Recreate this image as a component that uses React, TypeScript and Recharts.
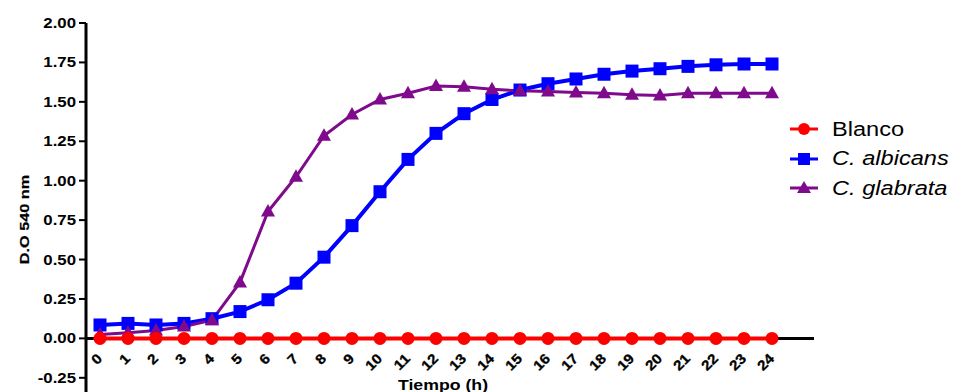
import React from 'react';
import { LineChart, Line, XAxis, YAxis, ReferenceLine } from 'recharts';

const hours = [0, 1, 2, 3, 4, 5, 6, 7, 8, 9, 10, 11, 12, 13, 14, 15, 16, 17, 18, 19, 20, 21, 22, 23, 24];
const blanco = [0, 0, 0, 0, 0, 0, 0, 0, 0, 0, 0, 0, 0, 0, 0, 0, 0, 0, 0, 0, 0, 0, 0, 0, 0];
const albicans = [0.085, 0.095, 0.085, 0.095, 0.125, 0.17, 0.245, 0.35, 0.515, 0.715, 0.93, 1.135, 1.3, 1.425, 1.515, 1.575, 1.615, 1.645, 1.675, 1.695, 1.71, 1.725, 1.735, 1.74, 1.74];
const glabrata = [0.025, 0.035, 0.05, 0.075, 0.115, 0.355, 0.805, 1.025, 1.285, 1.42, 1.515, 1.555, 1.6, 1.595, 1.58, 1.57, 1.565, 1.56, 1.555, 1.545, 1.54, 1.555, 1.555, 1.555, 1.555];
const yTicks = [-0.25, 0, 0.25, 0.5, 0.75, 1, 1.25, 1.5, 1.75, 2];

const data = hours.map((h, i) => ({ h, blanco: blanco[i], albicans: albicans[i], glabrata: glabrata[i] }));

const FONT = '"Liberation Sans", Arial, sans-serif';
const Y_MIN = -0.34;
const Y_MAX = 2;
const TOP = 23;
const X_AXIS_H = 20;

const RED = '#ff0000';
const BLUE = '#0000ff';
const PURPLE = '#7f0a8c';

const Circle = (p: any) => <circle key={p.index} cx={p.cx} cy={p.cy} r={6.5} fill={RED} />;
const Square = (p: any) => <rect key={p.index} x={p.cx - 6.5} y={p.cy - 6.5} width={13} height={13} fill={BLUE} />;
const Triangle = (p: any) => (
  <polygon key={p.index} points={`${p.cx},${p.cy - 7.5} ${p.cx - 7},${p.cy + 5} ${p.cx + 7},${p.cy + 5}`} fill={PURPLE} />
);

const YTick = ({ x, y, payload }: any) => (
  <text transform={`translate(${x},${y}) scale(1.2,1)`} textAnchor="end" dominantBaseline="central"
    fontFamily={FONT} fontWeight="bold" fontSize={14} fill="#000">
    {payload.value.toFixed(2)}
  </text>
);

const XTick = ({ x, y, payload }: any) => {
  // y is the plot bottom here (tickSize/tickMargin 0); find where value 0 sits
  const zeroY = y - ((0 - Y_MIN) / (Y_MAX - Y_MIN)) * (y - TOP);
  return (
    <text transform={`translate(${x + 3},${zeroY + 21}) rotate(-45) scale(1.1,1)`} textAnchor="end"
      fontFamily={FONT} fontWeight="bold" fontSize={14} fill="#000" stroke="#000" strokeWidth={0.3}>
      {payload.value}
    </text>
  );
};

const legendItems = [
  { name: 'Blanco', color: RED, italic: false, shape: 'circle' },
  { name: 'C. albicans', color: BLUE, italic: true, shape: 'square' },
  { name: 'C. glabrata', color: PURPLE, italic: true, shape: 'triangle' },
];

const LegendMark = ({ color, shape }: any) => (
  <svg width={28} height={16}>
    <line x1={0} y1={8} x2={28} y2={8} stroke={color} strokeWidth={3} />
    {shape === 'circle' && <circle cx={14} cy={8} r={6} fill={color} />}
    {shape === 'square' && <rect x={8} y={2} width={12} height={12} fill={color} />}
    {shape === 'triangle' && <polygon points="14,1 7,13 21,13" fill={color} />}
  </svg>
);

export default function App() {
  return (
    <div style={{ position: 'absolute', left: 0, top: 0, width: 956, height: 392, background: '#fff', overflow: 'hidden' }}>
      <LineChart width={956} height={392} data={data} margin={{ top: TOP, right: 142, left: 26, bottom: -X_AXIS_H }}>
        <XAxis dataKey="h" type="number" domain={[-0.5, 25.5]} allowDataOverflow ticks={hours} interval={0}
          axisLine={false} tickLine={false} tickSize={0} tickMargin={0} height={X_AXIS_H} tick={<XTick />}
          label={{
            content: (p: any) => (
              <text transform={`translate(${p.viewBox.x + p.viewBox.width / 2 - 7},${p.viewBox.y - 2}) scale(1.18,1)`}
                textAnchor="middle" fontFamily={FONT} fontWeight="bold" fontSize={15} fill="#000">
                Tiempo (h)
              </text>
            ),
          }}
        />
        <YAxis type="number" domain={[Y_MIN, Y_MAX]} allowDataOverflow ticks={yTicks} interval={0} width={60}
          axisLine={{ stroke: '#000', strokeWidth: 3 }} tickLine={{ stroke: '#000', strokeWidth: 2 }}
          tickSize={7} tickMargin={3} tick={<YTick />}
          label={{
            content: (p: any) => (
              <text transform={`translate(${29},${p.viewBox.y + p.viewBox.height / 2 + 12}) rotate(-90) scale(1.3,1)`}
                textAnchor="middle" fontFamily={FONT} fontWeight="bold" fontSize={12.5} fill="#000"
                stroke="#000" strokeWidth={0.2}>
                D.O 540 nm
              </text>
            ),
          }}
        />
        <ReferenceLine y={0} stroke="#000" strokeWidth={3} />
        <Line type="linear" dataKey="albicans" stroke={BLUE} strokeWidth={4} dot={Square} activeDot={false} isAnimationActive={false} />
        <Line type="linear" dataKey="glabrata" stroke={PURPLE} strokeWidth={3} dot={Triangle} activeDot={false} isAnimationActive={false} />
        <Line type="linear" dataKey="blanco" stroke={RED} strokeWidth={4} dot={Circle} activeDot={false} isAnimationActive={false} />
      </LineChart>
      <div style={{ position: 'absolute', left: 790, top: 114.5, fontFamily: FONT }}>
        {legendItems.map((it) => (
          <div key={it.name} style={{ height: 29.5, display: 'flex', alignItems: 'center' }}>
            <LegendMark color={it.color} shape={it.shape} />
            <span style={{
              marginLeft: 14, fontSize: 20, fontStyle: it.italic ? 'italic' : 'normal', color: '#000',
              display: 'inline-block', transform: 'scaleX(1.18)', transformOrigin: 'left center', whiteSpace: 'nowrap',
            }}>
              {it.name}
            </span>
          </div>
        ))}
      </div>
    </div>
  );
}
